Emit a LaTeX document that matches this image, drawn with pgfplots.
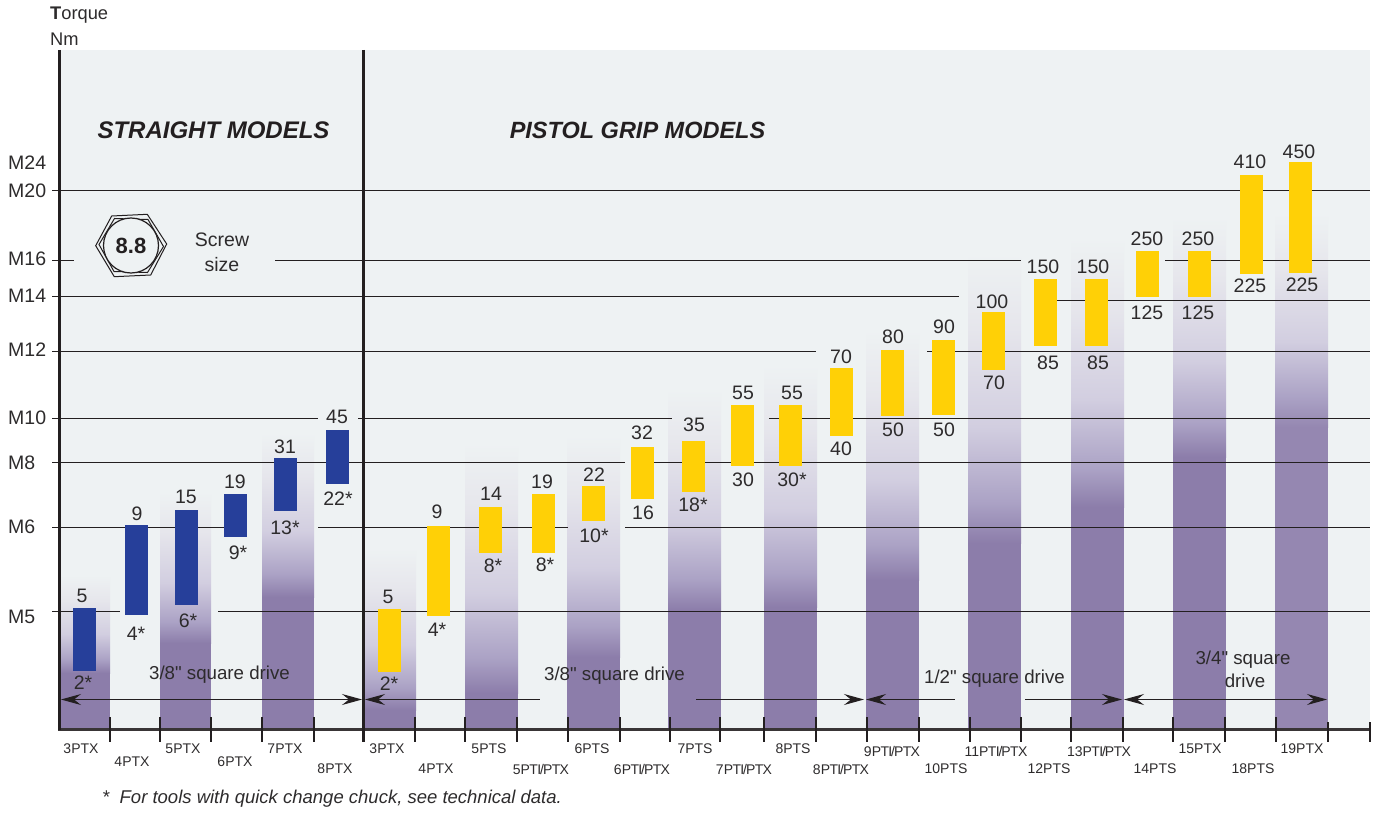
\documentclass[border=0pt]{standalone}
\usepackage{pgfplots}
\pgfplotsset{compat=1.18}
\usepackage{fontspec}
\setmainfont{Liberation Sans}
\newfontfamily\rawf{Liberation Sans}
\usetikzlibrary{arrows.meta}
\definecolor{bg}{HTML}{EEF2F3}
\definecolor{pur}{HTML}{8C7DAA}
\definecolor{purb}{HTML}{9587B1}
\definecolor{lava}{HTML}{ABA2C5}
\definecolor{lavb}{HTML}{D2CEE0}
\definecolor{lavc}{HTML}{E6E6EC}
\definecolor{ink}{HTML}{231F20}
\definecolor{txt}{HTML}{2D2B2C}
\definecolor{navy}{HTML}{263F9A}
\definecolor{gold}{HTML}{FFD006}
\pgfdeclareverticalshading{colfade}{100bp}{color(0bp)=(pur); color(25bp)=(pur); color(32bp)=(lava); color(45bp)=(lavb); color(62bp)=(lavc); color(75bp)=(bg); color(100bp)=(bg)}
\pgfdeclareverticalshading{colfadeb}{100bp}{color(0bp)=(purb); color(25bp)=(purb); color(32bp)=(lava); color(45bp)=(lavb); color(62bp)=(lavc); color(75bp)=(bg); color(100bp)=(bg)}
% #1 left, #2 right, #3 top of fade, #4 start of solid, #5 shading, #6 solid colour
\newcommand{\col}[6]{%
  \addplot[draw=none,shading=#5,forget plot] coordinates {(#1,#3)(#2,#3)(#2,#4)(#1,#4)} --cycle;
  \addplot[draw=none,fill=#6,forget plot] coordinates {(#1,#4)(#2,#4)(#2,730)(#1,730)} --cycle;
}
\newcommand{\fs}[1]{\fontsize{#1}{#1}\selectfont}
\newcommand{\tp}{P\kern-.6ptT\kern-.6ptI\kern-1.1pt/\kern-1.1ptP\kern-.6ptT\kern-.6ptX}
\begin{document}
\begin{tikzpicture}
\begin{axis}[name=ax,
  scale only axis,width=1373pt,height=813pt,
  xmin=0,xmax=1373,ymin=0,ymax=813,y dir=reverse,
  axis lines=none,clip=false,unbounded coords=jump,
  every node near coord/.append style={anchor=center,inner sep=0pt,text=txt},
  every axis plot/.append style={forget plot}]
% panel
\addplot[draw=none,fill=bg] coordinates {(58,50)(1370,50)(1370,730)(58,730)} --cycle;
% purple columns
\col{60}{110}{575}{673}{colfade}{pur}
\col{160}{211}{492}{643}{colfade}{pur}
\col{262}{314}{433}{597}{colfade}{pur}
\col{365}{416}{548}{710}{colfade}{pur}
\col{465}{518}{443}{693}{colfade}{pur}
\col{567}{620}{435}{657}{colfade}{pur}
\col{668}{721}{389}{610}{colfade}{pur}
\col{764}{817}{365}{607}{colfade}{pur}
\col{866}{919}{330}{580}{colfade}{pur}
\col{968}{1021}{253}{543}{colfade}{pur}
\col{1071}{1124}{238}{507}{colfade}{pur}
\col{1173}{1226}{217}{457}{colfade}{pur}
\col{1275}{1328}{213}{427}{colfadeb}{purb}
% screw-size lines
\addplot[ink,line width=1pt] coordinates {
 (52,190.5)(1370,190.5)(nan,nan)
 (52,260.5)(74,260.5)(nan,nan)(275,260.5)(1021,260.5)(nan,nan)(1165,260.5)(1370,260.5)(nan,nan)
 (52,296.5)(959,296.5)(nan,nan)(1057,300.5)(1370,300.5)(nan,nan)
 (52,351.5)(816,351.5)(nan,nan)(927,351.5)(1370,351.5)(nan,nan)
 (52,418.5)(318,418.5)(nan,nan)(358,418.5)(672,418.5)(nan,nan)(769,418.5)(1370,418.5)(nan,nan)
 (52,462.5)(625,462.5)(nan,nan)(631,462.5)(1370,462.5)(nan,nan)
 (52,527.5)(224,527.5)(nan,nan)(318,527.5)(568,527.5)(nan,nan)(625,527.5)(1370,527.5)(nan,nan)
 (52,611.5)(120,611.5)(nan,nan)(218,611.5)(1370,611.5)};
% straight models: torque ranges
\addplot[navy,line width=23pt] coordinates {
 (84.5,608)(84.5,671)(nan,nan)(136.5,525)(136.5,615)(nan,nan)(186.5,510)(186.5,605)(nan,nan)
 (235.5,494)(235.5,537)(nan,nan)(285.5,458)(285.5,511)(nan,nan)(337.5,430)(337.5,484)};
% pistol grip models: torque ranges
\addplot[gold,line width=23pt] coordinates {
 (389.5,609)(389.5,672)(nan,nan)(438.5,526)(438.5,616)(nan,nan)(490.5,507)(490.5,553)(nan,nan)
 (543.5,494)(543.5,553)(nan,nan)(593.5,486)(593.5,521)(nan,nan)(642.5,447)(642.5,499)(nan,nan)
 (693.5,441)(693.5,492)(nan,nan)(742.5,405)(742.5,466)(nan,nan)(790.5,405)(790.5,466)(nan,nan)
 (841.5,368)(841.5,436)(nan,nan)(892.5,350)(892.5,416)(nan,nan)(943.5,340)(943.5,415)(nan,nan)
 (993.5,312)(993.5,370)(nan,nan)(1045.5,279)(1045.5,346)(nan,nan)(1096.5,279)(1096.5,346)(nan,nan)
 (1147.5,251)(1147.5,297)(nan,nan)(1199.5,251)(1199.5,297)(nan,nan)(1251.5,175)(1251.5,274)(nan,nan)
 (1300.5,162)(1300.5,273)};
% frame
\addplot[ink!90,line width=2.2pt] coordinates {(58,729.5)(1370,729.5)};
\addplot[ink,line width=2.8pt] coordinates {(59.5,50)(59.5,730)};
\addplot[ink,line width=2.8pt] coordinates {(363.5,50)(363.5,742)};
\addplot[ink,line width=2pt] coordinates {
 (110,717)(110,742)(nan,nan)(160,717)(160,742)(nan,nan)(211,717)(211,742)(nan,nan)(262,717)(262,742)(nan,nan)
 (314,717)(314,742)(nan,nan)(415,717)(415,742)(nan,nan)(465,717)(465,742)(nan,nan)(517,717)(517,742)(nan,nan)
 (568,717)(568,742)(nan,nan)(620,717)(620,742)(nan,nan)(670,717)(670,742)(nan,nan)(720,717)(720,742)(nan,nan)
 (764,717)(764,742)(nan,nan)(816,717)(816,742)(nan,nan)(867,717)(867,742)(nan,nan)(919,717)(919,742)(nan,nan)
 (970,717)(970,742)(nan,nan)(1021,717)(1021,742)(nan,nan)(1071,717)(1071,742)(nan,nan)(1123,717)(1123,742)(nan,nan)
 (1173,717)(1173,742)(nan,nan)(1225,717)(1225,742)(nan,nan)(1276,717)(1276,742)(nan,nan)(1328,722)(1328,742)(nan,nan)
 (1370,722)(1370,742)};
% drive arrows
\pgfplotsset{drv/.style={ink,line width=1pt}}
\tikzset{hd/.tip={Stealth[length=20pt,width=11pt,inset=7pt]}}
\addplot[drv,hd-hd] coordinates {(61,699.5)(362,699.5)};
\addplot[drv,hd-] coordinates {(365,699.5)(540,699.5)};
\addplot[drv,-hd] coordinates {(696,699.5)(864,699.5)};
\addplot[drv,hd-] coordinates {(866,699.5)(955,699.5)};
\addplot[drv,-hd] coordinates {(1025,699.5)(1122,699.5)};
\addplot[drv,hd-hd] coordinates {(1124,699.5)(1327,699.5)};
% value labels
\addplot[draw=none,mark=none,nodes near coords,point meta=explicit symbolic,
  every node near coord/.append style={font=\fs{19.5}}] table[x=x,y=y,meta=lab] {
x y lab
82 596 5
137 514 9
186 497 15
235 482 19
285 447 31
337 417 45
83 683 2*
136 634 4*
188 621 6*
238 553 9*
285 528 13*
338 499 22*
388 597 5
437 512 9
491 494 14
542 482 19
594 475 22
642 433 32
694 425 35
743 393 55
792 393 55
841 357 70
893 337 80
944 327 90
992 302 100
1043 267 150
1093 267 150
1147 239 250
1198 239 250
1250 162 410
1299 152 450
389 684 2*
437 630 4*
493 566 8*
545 565 8*
594 536 10*
643 513 16
693 505 18*
743 480 30
792 480 30*
841 449 40
893 430 50
944 430 50
994 383 70
1048 363 85
1098 363 85
1147 313 125
1198 313 125
1250 286 225
1302 285 225
};
% screw size labels
\addplot[draw=none,mark=none,nodes near coords,point meta=explicit symbolic,
  every node near coord/.append style={font=\fs{19.5},anchor=west}] table[x=x,y=y,meta=lab] {
x y lab
8 163 M24
8 191 M20
8 259 M16
8 296 M14
8 350 M12
8 418 M10
8 463 M8
8 527 M6
8 617 M5
};
% model labels
\addplot[draw=none,mark=none,nodes near coords,point meta=explicit symbolic,
  every node near coord/.append style={font=\fs{14}}] table[x=x,y=y,meta=lab] {
x y lab
81 749 3PTX
132 762 4PTX
183 749 5PTX
235 762 6PTX
285 749 7PTX
335 769 8PTX
387 749 3PTX
436 769 4PTX
489 749 5PTS
541 769 5{\tp}
592 749 6PTS
642 769 6{\tp}
695 749 7PTS
744 769 7{\tp}
793 749 8PTS
841 769 8{\tp}
892 751 9{\tp}
946 769 10PTS
996 751 11{\tp}
1049 769 12PTS
1099 751 13{\tp}
1155 769 14PTS
1200 749 15PTX
1253 769 18PTS
1302 749 19PTX
};
% texts
\node[anchor=west,inner sep=0,text=txt,font=\fs{18.3}] at (axis cs:50,15.5) {\textbf{T}orque};
\node[anchor=west,inner sep=0,text=txt,font=\fs{18.3}] at (axis cs:50,39) {Nm};
\node[anchor=center,inner sep=0,text=ink,font=\fs{24}\bfseries\itshape] at (axis cs:213.5,130) {STRAIGHT MODELS};
\node[anchor=center,inner sep=0,text=ink,font=\fs{23.5}\bfseries\itshape] at (axis cs:637.5,130) {PISTOL GRIP MODELS};
\node[inner sep=0,text=txt,font=\fs{19.5}] at (axis cs:222,240) {Screw};
\node[inner sep=0,text=txt,font=\fs{19.5}] at (axis cs:222,265) {size};
\node[inner sep=0,text=txt,font=\rawf\fs{18.7}] at (axis cs:219.5,675) {3/8" square drive};
\node[inner sep=0,text=txt,font=\rawf\fs{18.7}] at (axis cs:614.5,676) {3/8" square drive};
\node[inner sep=0,text=txt,font=\rawf\fs{18.7}] at (axis cs:994.5,679) {1/2" square drive};
\node[inner sep=0,text=txt,font=\rawf\fs{18.7}] at (axis cs:1243,660) {3/4" square};
\node[inner sep=0,text=txt,font=\rawf\fs{18.7}] at (axis cs:1245,681) {drive};
\node[anchor=west,inner sep=0,text=txt,font=\fs{18.5}\itshape] at (axis cs:102,799) {*\ \ For tools with quick change chuck, see technical data.};
% grade symbol
\draw[ink,line width=1pt] (axis cs:95.7,245.7)--(axis cs:111.7,216)--(axis cs:147.3,214.3)--(axis cs:166.7,244)--(axis cs:150.7,275)--(axis cs:114.3,276.7)--cycle;
\draw[ink,line width=1pt] (axis cs:99,244.5)--(axis cs:114.5,218.5)--(axis cs:148,219.5)--(axis cs:163.5,246.5)--(axis cs:147.5,272.5)--(axis cs:114,271.5)--cycle;
\draw[ink,line width=1.2pt,fill=bg] (axis cs:131,245.5) circle[radius=27.5pt];
\node[inner sep=0,text=ink,font=\fs{22}\bfseries] at (axis cs:131,246) {8.8};
\end{axis}
\pgfresetboundingbox
\path[use as bounding box] (ax.south west) rectangle (ax.north east);
\end{tikzpicture}
\end{document}
